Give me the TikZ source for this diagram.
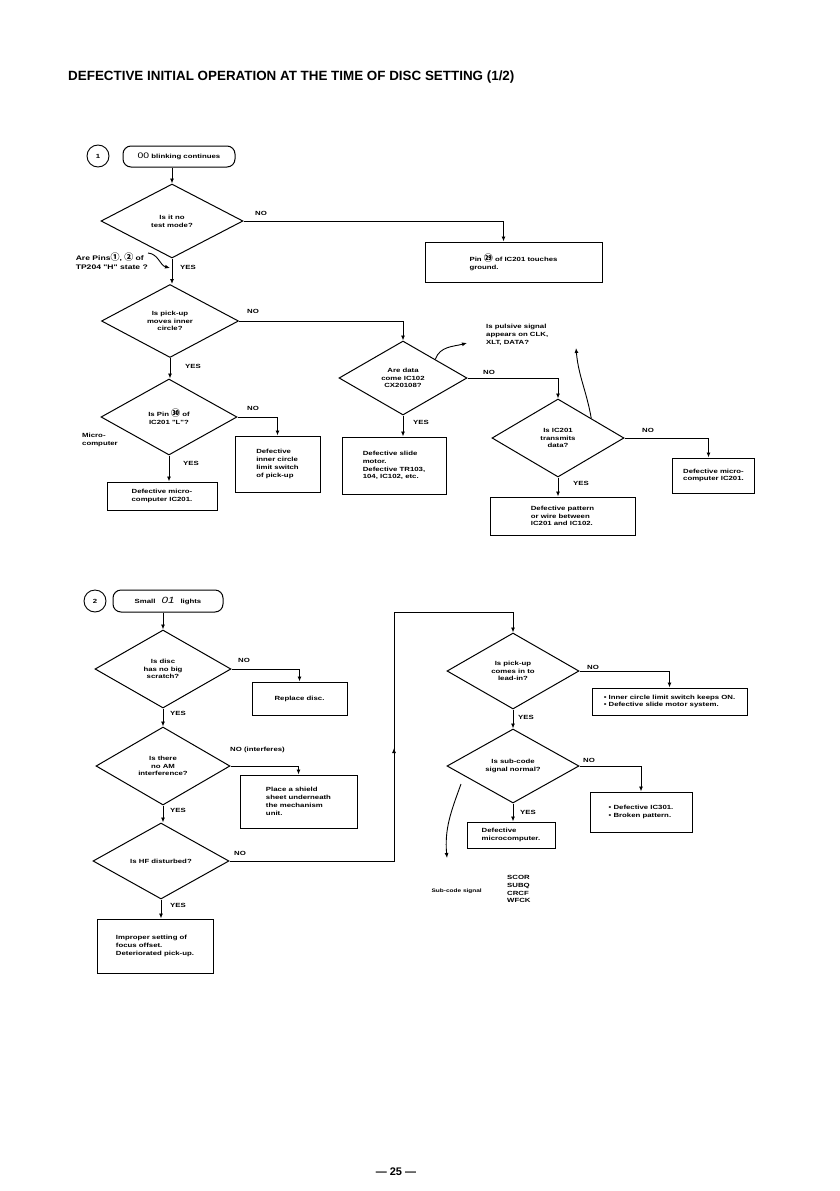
\documentclass[tikz,border=0pt]{standalone}
\usepackage{fontspec}
\setmainfont{Liberation Sans}
\newfontfamily\boxfont[FakeStretch=1.3]{Liberation Sans}
\newfontfamily\circfont{Noto Sans CJK JP}
\usetikzlibrary{shapes.geometric,arrows.meta}
\tikzset{
  base/.style={font=\boxfont\bfseries\fontsize{6}{7.8}\selectfont},
  dia/.style={draw, diamond, line width=1pt, inner sep=0pt, minimum width=136pt, minimum height=75pt, align=center, base},
  box/.style={draw, rectangle, line width=1pt, align=left, base},
  term/.style={draw, rectangle, rounded corners=8pt, line width=1pt, base},
  num/.style={draw, circle, line width=0.9pt, minimum size=22pt, inner sep=0pt, base},
  lab/.style={base, inner sep=0pt, anchor=west},
  con/.style={line width=0.9pt},
  arr/.style={con, -{Latex[length=5pt,width=4pt]}},
}
\newcommand{\cnum}[1]{{\circfont\fontsize{9}{9}\selectfont #1}}
\begin{document}
\begin{tikzpicture}[x=1pt,y=-1pt]
\useasboundingbox[fill=white] (0,0) rectangle (839,1191);

\node[font=\bfseries\fontsize{13.4}{15}\selectfont, anchor=west, inner sep=0pt] (title) at (68,77)
  {DEFECTIVE INITIAL OPERATION AT THE TIME OF DISC SETTING (1/2)};

% ---------- part 1 ----------
\node[num] (n1) at (98,156) {1};
\node[term, minimum width=112pt, minimum height=21pt] (s1) at (179,156.5) {{\mdseries\fontsize{8}{8}\selectfont 00} blinking continues};
\node[dia, minimum width=142pt, minimum height=74pt] (d1) at (172,221) {Is it no\\test mode?};
\node[box, minimum width=177pt, minimum height=40pt] (b1) at (513.5,262) {Pin \cnum{㉙} of IC201 touches\\ground.};
\node[lab, anchor=north east, align=left, font=\boxfont\bfseries\fontsize{6.6}{8.4}\selectfont] (tp) at (148,253) {Are Pins\cnum{①}, \cnum{②} of\\TP204 "H" state ?};
\coordinate (tpend) at (170,268);

\node[dia, minimum width=137pt, minimum height=73pt] (d2) at (170,321) {Is pick-up\\moves inner\\circle?};
\node[dia, minimum width=136pt, minimum height=76pt] (d4) at (169,417) {Is Pin \cnum{㉚} of\\IC201 "L"?};
\node[lab, anchor=north west, align=left] (mc) at (82,433) {Micro-\\computer};
\node[box, minimum width=110pt, minimum height=28pt] (b2) at (162,496) {Defective micro-\\computer IC201.};
\node[box, minimum width=85pt, minimum height=56pt] (b3) at (277.5,464) {Defective\\inner circle\\limit switch\\of pick-up};

\node[dia, minimum width=128pt, minimum height=74pt] (d3) at (403,378) {Are data\\come IC102\\CX20108?};
\node[box, minimum width=104pt, minimum height=57pt] (b4) at (394,465.5) {Defective slide\\motor.\\Defective TR103,\\104, IC102, etc.};
\node[lab, anchor=north west, align=left] (ps) at (486,324) {Is pulsive signal\\appears on CLK,\\XLT, DATA?};
\coordinate (pt1) at (467,343);

\node[dia, minimum width=132pt, minimum height=78pt] (d5) at (558,438) {Is IC201\\transmits\\data?};
\coordinate (pt2) at (576,348);
\node[box, minimum width=82pt, minimum height=35pt] (b5) at (713.5,475.5) {Defective micro-\\computer IC201.};
\node[box, minimum width=145pt, minimum height=38pt] (b6) at (562.5,516) {Defective pattern\\or wire between\\IC201 and IC102.};

\draw[arr] (d1.north |- s1.south) -- (d1.north);
\draw[arr] (d1.east) -| ([xshift=-10pt]b1.north);
\draw[arr] (d1.south) -- (d1.south |- d2.north);
\draw[arr] (tp.north east) to[out=-5,in=165] (tpend);
\draw[arr] (d2.east) -| (d3.north);
\draw[arr] (d2.south) -- (d2.south |- d4.north);
\draw[arr] (d4.east) -| (b3.north);
\draw[arr] (d4.south) -- (d4.south |- b2.north);
\draw[arr] (d3.south) -- (d3.south |- b4.north);
\draw[arr] (d3.east) -| (d5.north);
\draw[arr] (d3.north east) to[out=70,in=195] (pt1);
\draw[arr] (d5.east) -| ([xshift=-5pt]b5.north);
\draw[arr] (d5.south) -- (d5.south |- b6.north);
\draw[arr] (d5.north east) to[out=100,in=-85] (pt2);

\node[lab] (no1) at (255,213) {NO};
\node[lab] (ye1) at (180,267) {YES};
\node[lab] (no2) at (247,311) {NO};
\node[lab] (ye2) at (185,366) {YES};
\node[lab] (no4) at (247,408) {NO};
\node[lab] (ye4) at (183,463) {YES};
\node[lab] (ye3) at (413,422) {YES};
\node[lab] (no3) at (483,372) {NO};
\node[lab] (no5) at (642,430) {NO};
\node[lab] (ye5) at (573,483) {YES};

% ---------- part 2 ----------
\node[num] (n2) at (95,601) {2};
\node[term, minimum width=110pt, minimum height=22pt] (s2) at (168,601) {Small\quad{\mdseries\itshape\fontsize{9}{9}\selectfont 01}\quad lights};
\node[dia, minimum width=136pt, minimum height=78pt] (d6) at (163,669) {Is disc\\has no big\\scratch?};
\node[box, minimum width=95pt, minimum height=33pt] (b7) at (299.5,698.5) {Replace disc.};
\node[dia, minimum width=134pt, minimum height=78pt] (d7) at (163,766) {Is there\\no AM\\interference?};
\node[box, minimum width=117pt, minimum height=53pt] (b8) at (298.5,801.5) {Place a shield\\sheet underneath\\the mechanism\\unit.};
\node[dia, minimum width=136pt, minimum height=76pt] (d8) at (161,861) {Is HF disturbed?};
\node[box, minimum width=116pt, minimum height=54pt] (b9) at (155,946) {Improper setting of\\focus offset.\\Deteriorated pick-up.};

\node[dia, minimum width=132pt, minimum height=76pt] (d9) at (513,671) {Is pick-up\\comes in to\\lead-in?};
\node[box, minimum width=155pt, minimum height=27pt] (b10) at (669.5,701.5) {• Inner circle limit switch keeps ON.\\• Defective slide motor system.};
\node[dia, minimum width=132pt, minimum height=74pt] (d10) at (513,766) {Is sub-code\\signal normal?};
\node[box, minimum width=102pt, minimum height=40pt] (b11) at (641,812) {• Defective IC301.\\• Broken pattern.};
\node[box, minimum width=88pt, minimum height=26pt] (b12) at (511,835) {Defective\\microcomputer.};
\node[lab, anchor=east, font=\boxfont\bfseries\fontsize{5}{6}\selectfont] (sc) at (482,891) {Sub-code signal};
\node[lab, anchor=north west, align=left] (sig) at (507,875) {SCOR\\SUBQ\\CRCF\\WFCK};
\coordinate (pt3) at (461,784);
\coordinate (pt4) at (447,858);
\coordinate (c1) at (394,861);
\coordinate (c2) at (394,612);

\draw[arr] (d6.north |- s2.south) -- (d6.north);
\draw[arr] (d6.east) -| (b7.north);
\draw[arr] (d6.south) -- (d6.south |- d7.north);
\draw[arr] (d7.east) -| (b8.north);
\draw[arr] (d7.south) -- (d7.south |- d8.north);
\draw[arr] (d8.south) -- (d8.south |- b9.north);
\draw[arr] (d8.east) -- (c1) -- (c2) -| (d9.north);
\draw[arr] (c1) -- (394,748);
\draw[arr] (d9.east) -| (b10.north);
\draw[arr] (d9.south) -- (d10.north);
\draw[arr] (d10.east) -| (b11.north);
\draw[arr] (d10.south) -- (d10.south |- b12.north);
\draw[arr] (pt3) to[out=250,in=95] (pt4);

\node[lab] (no6) at (238,660) {NO};
\node[lab] (ye6) at (170,713) {YES};
\node[lab] (no7) at (230,750) {NO (interferes)};
\node[lab] (ye7) at (170,810) {YES};
\node[lab] (no8) at (234,853) {NO};
\node[lab] (ye8) at (170,905) {YES};
\node[lab] (no9) at (587,667) {NO};
\node[lab] (ye9) at (518,717) {YES};
\node[lab] (no10) at (583,760) {NO};
\node[lab] (ye10) at (520,812) {YES};

\node[font=\bfseries\fontsize{11}{13}\selectfont] (pg) at (396,1172) {— 25 —};
\end{tikzpicture}
\end{document}
